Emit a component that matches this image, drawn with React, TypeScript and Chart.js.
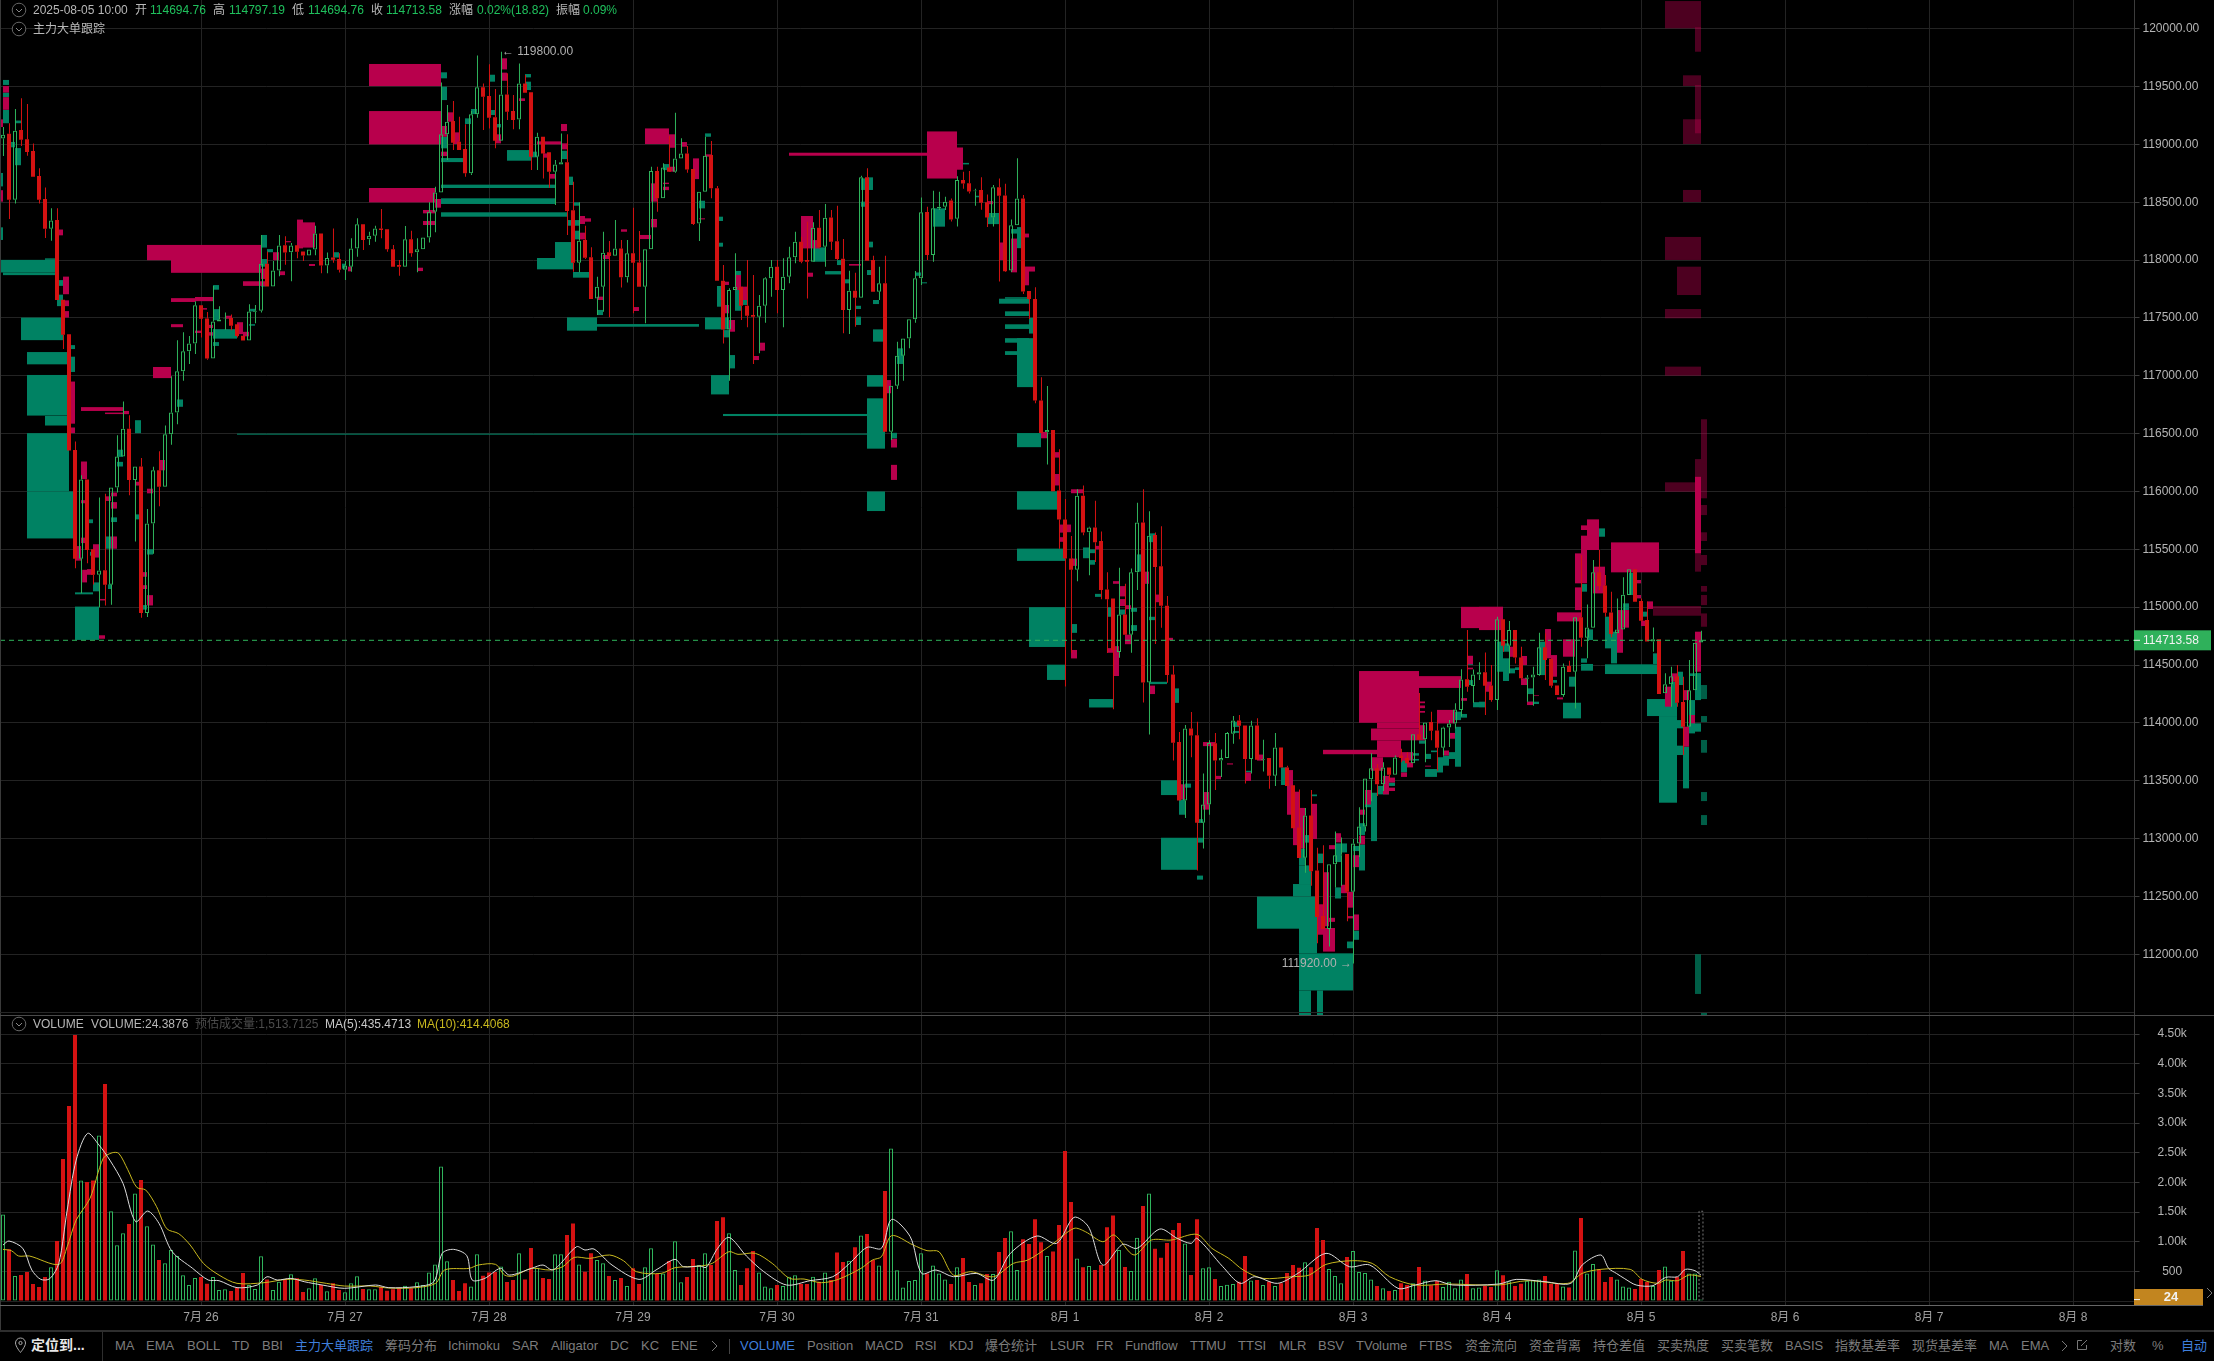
import React, { useEffect, useRef } from "react";
import { Chart, registerables } from "chart.js";

Chart.register(...registerables);

// ---------- hourly candles, 2025-07-24 15:00 to 2025-08-05 10:00 ----------
const opens = [
  119051,119091,118522,119124,119044,118942,118727,118528,118270,118346,
  117658,117360,116358,115419,116103,115501,115280,115319,115194,116034,
  116302,116543,116100,116216,114949,115723,116183,116041,116494,116682,
  117040,117212,117278,117609,117496,117149,117470,117490,117499,117446,
  117347,117304,117553,117562,117969,117771,117910,118128,118068,118128,
  118075,118039,118092,118230,117953,118022,118009,117916,117943,118101,
  118309,118179,118211,118274,118266,118093,117957,117943,118179,118067,
  118093,118196,118418,118585,119087,119202,119023,118960,118750,119260,
  119493,119418,119234,119032,119432,119288,119216,119527,119450,118894,
  119067,118931,118764,118827,118845,118430,117977,118173,118024,117669,
  117770,118067,118038,118101,117851,118058,117980,117770,118093,118770,
  118534,118801,118764,118879,118922,118787,118317,118591,118908,118620,
  117822,117401,117741,117770,117606,117525,117511,117606,117842,117943,
  117741,117856,118024,118159,118000,117986,118280,118116,118369,118162,
  118012,117568,117736,117675,118715,118001,117727,117799,116517,116914,
  117174,117323,117488,117842,118415,118044,118447,118461,118516,118358,
  118692,118665,118596,118606,118500,118367,118629,118559,117911,118301,
  118533,117732,117663,116786,116512,116532,116009,115757,115420,115324,
  115963,115648,115688,115572,115152,115076,114613,114937,114762,115301,
  115731,114348,115623,115354,115012,114419,113835,113329,113951,113893,
  113136,113294,113823,113674,113697,113907,114021,113978,113688,113978,
  113682,113697,113542,113788,113615,113460,113095,112835,113200,112724,
  112330,112219,112777,112856,112867,112540,112958,113104,113513,113607,
  113469,113615,113551,113718,113697,113650,113902,113858,114007,113934,
  113785,113960,113995,114112,114376,114318,114419,114437,114324,114197,
  114895,114667,114802,114566,114382,114393,114413,114653,114555,114324,
  114241,114491,114442,114912,114736,114823,115301,115188,114955,114774,
  114808,115105,115327,115053,114889,114704,114722,114255,114333,114402,
  114180,113967,114281,114694.76,
];
const closes = [
  119084,118522,119117,119041,118935,118720,118522,118270,118343,117655,
  117354,116355,115419,116103,115495,115280,115316,115194,116034,116302,
  116543,116100,116216,114949,115723,116183,116041,116494,116682,117040,
  117212,117278,117609,117493,117149,117470,117486,117495,117433,117344,
  117304,117556,117562,117969,117771,117910,118125,118065,118125,118072,
  118039,118092,118230,117953,118019,118002,117916,117953,118101,118309,
  118173,118211,118274,118260,118093,117943,117943,118179,118058,118093,
  118196,118418,118585,119087,119196,119015,118951,118750,119260,119493,
  119412,119231,119032,119432,119283,119211,119527,119447,118894,119067,
  118922,118764,118827,118845,118424,117977,118168,118021,117663,117770,
  118064,118035,118101,117851,118058,117977,117770,118093,118770,118534,
  118801,118764,118879,118922,118784,118312,118591,118902,118620,117822,
  117401,117741,117770,117606,117519,117511,117606,117842,117943,117741,
  117856,118024,118159,117986,117986,118280,118110,118366,118159,118009,
  117568,117736,117675,118715,117995,117727,117799,116517,116914,117174,
  117323,117488,117842,118413,118044,118447,118461,118505,118351,118692,
  118662,118592,118602,118496,118367,118629,118556,117904,118301,118533,
  117729,117663,116786,116505,116532,116002,115757,115420,115324,115963,
  115645,115688,115562,115149,115069,114629,114937,114762,115301,115731,
  114348,115618,115348,115012,114413,113829,113329,113951,113890,113136,
  113294,113826,113674,113697,113913,114021,113975,113688,113978,113682,
  113688,113542,113788,113615,113455,113089,112832,113200,112718,112321,
  112219,112777,112856,112861,112540,112958,113104,113519,113607,113469,
  113615,113551,113700,113697,113650,113902,113855,114004,113931,113785,
  113960,113995,114115,114375,114313,114419,114437,114321,114197,114895,
  114667,114802,114566,114385,114393,114419,114653,114543,114321,114241,
  114485,114439,114912,114736,114825,115301,115183,114952,114768,114808,
  115108,115327,115047,114883,114704,114722,114249,114333,114402,114174,
  113967,114281,114693,114713.58,
];
const highs = [
  119150,119183,119306,119398,119349,119008,118793,118627,118449,118449,
  117658,117360,116431,116140,116103,115501,115948,115981,116034,116487,
  116778,116659,116216,116289,115849,116213,116348,116570,116997,117308,
  117377,117344,117645,117609,117552,117777,117602,117546,117529,117446,
  117347,117619,117612,118217,118075,117992,118217,118207,118148,118128,
  118075,118092,118297,118230,118065,118273,118058,117992,118188,118361,
  118309,118245,118297,118441,118266,118130,118001,118294,118254,118188,
  118196,118499,118634,119536,119340,119375,119239,119173,119288,119769,
  119527,119692,119478,119800,119614,119427,119700,119600,119450,119101,
  119067,118931,118865,119095,119087,118678,118499,118297,118110,117856,
  118245,118165,118346,118173,118173,118453,118251,118093,118807,118807,
  118836,119072,119274,119052,118986,118787,118591,119067,119029,118640,
  117957,117756,118058,117770,118001,117871,117698,117851,118001,118001,
  118015,118116,118245,118202,118332,118326,118433,118485,118433,118470,
  118182,117908,117891,118729,118793,118038,117943,118038,116914,117295,
  117323,117488,117905,118542,118461,118600,118591,118548,118533,118725,
  118764,118771,118616,118715,118566,118649,118705,118659,118351,118880,
  118563,117732,117765,116988,116912,116532,116366,115936,115615,116019,
  116052,115695,115920,115655,115301,115076,115341,115202,115334,115903,
  116019,115830,115646,115699,115097,114498,113922,113981,114095,114010,
  113563,113849,113913,113770,113922,114059,114068,113978,114019,114039,
  113855,113697,113913,113788,113630,113460,113425,113265,113420,112920,
  112943,112777,113060,113010,112867,112996,113270,113519,113738,113644,
  113659,113615,113718,113776,113747,113902,114258,114004,114097,114024,
  113966,114024,114170,114463,114802,114462,114523,114609,114500,114918,
  114895,114880,114802,114658,114413,114485,114779,114774,114555,114324,
  114514,114537,114912,115451,115024,115407,115494,115278,115134,115076,
  115258,115327,115327,115076,115047,114825,114722,114428,114485,114500,
  114399,114543,114693,114797.19,
];
const lows = [
  118900,118356,118488,118985,118902,118720,118488,118191,118168,117655,
  117231,116355,115336,115121,115379,115197,115000,115015,115022,115991,
  116302,115968,115568,114909,114916,115462,115872,116041,116404,116580,
  116957,117102,117188,117331,117139,117149,117470,117397,117394,117331,
  117304,117304,117453,117546,117771,117771,117860,117959,117817,118015,
  117992,118039,118042,117886,117886,117976,117893,117827,117900,118029,
  118087,118130,118159,118188,118073,117943,117865,117943,118029,117894,
  118093,118153,118240,118585,118865,118951,118951,118721,118735,119231,
  119124,119138,118966,119032,119211,119130,119130,119447,118778,118778,
  118706,118626,118476,118827,118217,117900,117894,118009,117663,117525,
  117554,117505,118038,117764,117807,117540,117770,117453,118093,118418,
  118534,118764,118755,118879,118755,118303,118165,118591,118534,117822,
  117280,116958,117741,117482,117419,117102,117194,117459,117684,117540,
  117419,117799,117972,117972,117669,117986,118101,117943,118087,118001,
  117367,117361,117424,117675,117995,117727,117655,116517,116445,116886,
  116958,117237,117459,117784,118001,117986,118433,118433,118334,118291,
  118616,118576,118470,118434,118285,118291,117815,117898,117898,118301,
  117706,117491,116763,116505,116234,116002,115506,114315,114606,115225,
  115622,115275,115390,115069,114603,114117,114563,114762,114606,115149,
  114176,113900,114682,114822,114346,113674,113329,113177,113703,112724,
  112914,113206,113420,113533,113697,113820,113858,113475,113563,113682,
  113580,113431,113455,113615,113455,113089,112832,112704,112593,112096,
  112219,112067,112578,112593,112286,111920,112841,113060,113323,113367,
  113411,113498,113551,113659,113644,113650,113849,113659,113849,113586,
  113718,113791,113951,114054,114269,114174,114370,114068,114183,114111,
  114615,114428,114514,114370,114183,114148,114408,114370,114304,114241,
  114226,114439,114125,114658,114558,114823,115148,114918,114739,114774,
  114808,115105,115047,114874,114704,114615,114249,114255,114140,114140,
  113722,113967,114281,114694.76,
];
const volumes = [
  1461,871,421,438,489,287,236,405,568,1012,
  2394,3288,4485,2034,2006,2034,2793,3659,1512,939,
  1141,1298,1815,2040,1259,955,691,635,860,759,
  433,270,388,405,292,405,185,197,169,225,
  472,270,202,753,365,185,326,371,450,382,
  152,214,382,270,163,298,185,146,298,416,
  202,197,197,242,174,197,214,259,214,315,
  270,483,618,2270,669,354,169,298,247,787,
  427,483,489,584,320,354,804,365,894,562,
  388,371,787,787,1113,1309,618,495,804,691,
  635,421,354,388,253,551,287,568,888,455,
  466,674,1006,315,405,708,607,804,607,1349,
  1411,1141,523,270,551,843,483,247,214,270,
  253,410,433,287,287,410,326,483,354,820,
  657,680,905,1107,1130,691,601,1855,2574,517,
  230,337,354,804,466,601,466,365,287,568,
  725,320,270,298,455,455,826,1062,1175,523,
  1040,961,1377,989,759,837,1281,2529,1669,719,
  568,590,523,607,1242,1444,860,573,506,1068,
  1602,1815,882,731,978,1197,1315,972,438,1377,
  551,568,371,253,275,287,326,759,348,354,
  270,326,253,298,472,607,562,652,568,1231,
  1028,540,421,298,742,843,489,472,365,253,
  214,169,185,298,270,298,573,348,264,337,
  236,326,214,365,455,214,230,253,236,517,
  433,332,253,292,343,354,365,421,287,287,
  247,230,854,1399,466,624,534,320,405,365,
  247,230,202,371,320,253,523,584,343,405,
  843,466,466,24.3876,
];

// ---------- MA lines, read at their turning points: [hour index, value] ----------
const ma5Points: number[][] = [
  [0,944],[1,1012],[3.3,888],[4.8,523],[6.3,365],[7.8,377],[9.3,635],[10.7,1534],[12.2,2377],[14.1,2827],
  [16,2630],[17.8,2377],[20,1984],[22.1,1338],[24.1,1517],[26,1309],[28.2,832],[31.6,551],[34.2,354],[36,343],
  [39,225],[42.4,270],[44,410],[45.7,354],[48,382],[50.2,326],[53.2,270],[56.9,214],[62.1,270],[64.3,225],
  [68.8,242],[71.8,326],[73.2,804],[75.1,871],[77.3,764],[78.2,354],[80.3,382],[82.9,551],[84.4,438],[88.1,551],
  [90,607],[91.5,523],[92.6,596],[95.6,916],[97,860],[98.5,877],[101.5,607],[106,365],[109,534],[112,703],
  [113.4,579],[116.2,590],[117.2,568],[119.1,888],[121,1073],[123.9,759],[126.8,495],[130.6,270],[134.5,343],[138.3,410],
  [141.1,635],[144,905],[146.4,888],[148.1,1377],[151.2,1085],[153.1,466],[155.5,523],[158.4,410],[162.2,466],[165.1,354],
  [167.9,804],[172.3,1096],[175.6,972],[178.5,1411],[180.9,1253],[183.3,607],[186.6,955],[189,888],[192.8,1214],[195.7,1057],
  [198,972],[199,1057],[203.3,579],[206.2,298],[208.6,410],[212.4,298],[215.8,466],[220.5,804],[224.4,579],[227.8,607],
  [232.5,214],[235.4,270],[238.8,343],[241.6,270],[249.3,287],[252.2,365],[257,326],[261.3,298],[263.2,607],[266.3,776],
  [267.6,551],[268.9,466],[270.2,382],[272.2,270],[275,259],[277.1,399],[279.1,410],[280.4,534],[282,511],[283,435.47],
];
const ma10Points: number[][] = [
  [0,871],[1.4,848],[2.6,759],[4.4,759],[9.3,618],[10.7,916],[12.2,1366],[14.5,1731],[16.7,2405],[18.2,2500],
  [19.3,2489],[20.8,2214],[22.3,1916],[23.8,1871],[25.6,1590],[27.3,1219],[29.3,1135],[31.2,944],[33.4,635],[36,438],
  [39,298],[43.5,309],[47.2,365],[50.2,354],[53.9,298],[56.9,253],[61.3,253],[64.3,219],[68.8,225],[72.1,298],
  [73.6,523],[77.7,551],[79.2,607],[82.1,618],[83.6,438],[85.1,422],[88.1,551],[91.1,523],[93.3,579],[95.2,736],
  [97.8,719],[101.1,776],[103.4,680],[105.6,494],[109.7,466],[112,562],[116.2,590],[118.2,635],[121,832],[122.5,787],
  [125.4,804],[128.2,635],[131.1,382],[133.5,371],[136.4,309],[139.2,365],[143,551],[144.9,691],[146.4,747],[148.1,1102],
  [151.7,944],[154,849],[156,832],[158.4,438],[161.3,495],[165.1,410],[168.4,635],[170.8,691],[174.7,944],[178.5,1225],
  [180.4,1169],[183.3,1000],[185.2,1113],[188.5,776],[191.4,1028],[194.7,1028],[199,1124],[201.5,888],[204.3,719],[206.7,523],
  [210,382],[214.8,410],[217.7,438],[220.5,618],[224.9,680],[228.2,635],[231.1,410],[235.4,270],[240.7,287],[249.3,270],
  [254,343],[260.8,298],[263.2,466],[266.3,534],[271.2,534],[273.2,365],[275.8,298],[277.1,354],[279.1,343],[281,438],[283,414.41],
];
const estimatedVolume = 1513.7125;
const lastIndex = 283;

// ---------- price levels and axis labels ----------
const priceTicks = [112000,112500,113000,113500,114000,114500,115000,115500,116000,116500,117000,117500,118000,118500,119000,119500,120000];
const volumeTicks = [0,500,1000,1500,2000,2500,3000,3500,4000,4500];
const dayTickIndex = [33,57,81,105,129,153,177,201,225,249,273,297,321,345];
const dayLabels = ["7月 26","7月 27","7月 28","7月 29","7月 30","7月 31","8月 1","8月 2","8月 3","8月 4","8月 5","8月 6","8月 7","8月 8"];
const lastPrice = 114713.58;
const lastVolume = 24.3876;
const highMark = { index: 83, price: 119800 };
const lowMark = { index: 225, price: 111920 };

// ---------- large-order zones: [from hour, to hour, upper price, lower price] ----------
const sellZones: number[][] = [
  [0,1,119504,119448],[0,1,119408,119299],[-0.5,0,119216,119150],[-0.5,0,118604,118505],[9.33,10,118264,118214],[10,11,117857,117705],
  [10.33,11,117652,117602],[10.33,11,117559,117503],[11.33,12,116950,116586],[11.33,12,116553,116504],[13,14,116259,116107],[13,13.7,115925,115898],
  [13,13.7,115601,115554],[15,16,115544,115429],[12,13,115528,115402],[13.2,14,115323,115214],[14,15,115329,115280],[16,17,115071,115058],
  [16,17,114757,114727],[17,18,115958,115918],[18,19,115991,115958],[18,19,115908,115852],[18,19,115611,115505],[13,20,116729,116696],
  [17,21,116682,116669],[20,21,116696,116669],[22,23,116084,116051],[26,27,116272,116183],[24,25,116024,115984],[24,25,115104,115015],
  [23.33,24,115303,115263],[23.33,24,115190,115157],[25,28,117076,116980],[28,30,117446,117420],[28,32,117671,117638],[32,35,117681,117645],
  [33,34,117585,117572],[32,33,117390,117370],[24,28,118131,117999],[28,43,118131,117890],[40,44,117817,117777],[34,35,117440,117413],
  [39,40,117463,117360],[40,41,117380,117341],[37,38,117519,117493],[34,35,117377,117347],[43,43.7,117926,117837],[45,46,118068,117999],
  [46,47,117903,117870],[47,48,118164,118154],[49,50,118350,118101],[50,52,118326,118108],[51,52,117966,117949],[57.5,58,117943,117903],
  [61,73,119695,119504],[61,73,119288,119000],[61,72,118623,118499],[74,75,119277,119196],[73,74,119159,119066],[75,76,119104,119003],
  [73,74,118937,118899],[83,84,119744,119648],[83,84,119620,119550],[82,83,119087,119009],[86,87,119398,119375],[93,94,119176,119115],
  [89,93,119026,119000],[93,94,119009,118957],[90,91,118922,118885],[91,92,118744,118704],[72,73,118528,118453],[70,72,118433,118404],
  [70,72,118338,118303],[69,70,117934,117905],[96,97,118381,118312],[97,98,118361,118332],[96,97,118237,118179],[100,101,118044,118009],
  [103,104,118266,118245],[99,100,117684,117655],[105,106,117594,117560],[106,108,118217,118182],[108,109,118355,118283],[108,109,118663,118505],
  [107,111,119138,119003],[111,112,119087,118971],[110,111,118669,118657],[110,111,118634,118605],[111,112,118807,118764],[113,114,119020,118980],
  [115,116,118879,118700],[116,117,118361,118352],[117,118,118914,118894],[120,121,117813,117785],[120,121,117612,117540],[121,122,117482,117381],
  [122,123,117871,117741],[123,124,117770,117655],[125,126,117171,117136],[126,127,117286,117217],[133,135,118381,118101],[135,136,118173,118101],
  [134,135,117891,117856],[141,143,117966,117952],[147,148,116963,116849],[148,149,116455,116380],[148,149,116230,116100],[131,154,118928,118902],[154,159,119112,118705],[159,160,118973,118781],
  [164,165,118510,118483],[166,167,118152,118000],[168,169,118186,117894],[170,171,118229,118196],[170,172,117944,117901],[170,171,117928,117782],
  [173,174,116515,116460],[175,176,116340,116293],[175,176,116151,116052],[176,178,115714,115648],[176,177,115680,115645],[176,177,115605,115565],
  [178,180,116019,115985],[182,183,115530,115500],[178,179,115420,115357],[178,179,114630,114557],[185,186,115225,115202],[186,187,115182,115093],
  [186,187,115070,115010],[187,188,115017,114983],[187,188,114762,114680],[185,186,114663,114405],[184,185,114646,114606],[190,191,115307,115202],
  [192,193,115109,115043],[191,192,114322,114249],[194,195,114735,114712],[196.3,197,113469,113338],[200,201,113402,113250],[200,202,113834,113799],
  [202,203,113542,113513],[204,205,113650,113640],[207,208,113572,113498],[209,210,113726,113674],[214,215,113592,113206],[215,216,113405,112943],
  [216,217,113265,112914],[218,219,113300,112996],[220,222,112227,112023],[219,220,112432,112169],[220,221,112709,112242],[221,222,112943,112908],
  [221,222,112315,112280],[222,223,113046,112967],[223,224,112601,112528],[224,225,112540,112403],[224,225,112330,112310],[225,226,112344,112207],
  [225,226,112856,112753],[226,227,113025,112949],[226,227,113250,113206],[227,228,113420,113294],[220,229,113767,113729],[226,236,114448,114001],
  [236,243,114404,114302],[229,236,114001,113951],[228,236,113951,113849],[229,233,113849,113703],[228,230,113703,113586],[230,231,113542,113382],
  [231,232,113527,113484],[231,232,113440,113411],[233,235,113747,113674],[233,234,113571,113533],[234,235,113659,113615],[236,237,113980,113849],
  [236,237,114185,114170],[236,237,114150,114127],[236,237,114103,114088],[237,238,113630,113622],[239,242,114112,113995],[240,241,113761,113718],
  [241,242,113913,113863],[243,244,114214,114191],[244,245,114580,114507],[244,245,114477,114463],[243,246,115003,114819],[246,250,115004,114802],
  [247,248,114356,114269],[251,252,114658,114571],[253,254,114578,114500],[253,254,114385,114327],[254,255,114183,114154],[255,256,114238,114232],
  [257,258,114811,114558],[258,259,114586,114399],[259,260,114220,114203],[260,262,114722,114572],[259,263,114955,114877],[262,263,115465,115206],
  [262,263,115171,114975],[263,264,115618,115206],[263,264,115707,115667],[264,266,115759,115494],[265,267,115350,115119],[269,270,114975,114606],
  [270,271,114975,114823],[268,276,115560,115301],[272,273,115235,115206],[272,273,115105,115076],[273,274,114883,114837],[274,275,115050,114985],
  [278,279,114428,114356],[277,278,114313,114140],[280,281,114283,114197],[280,281,113967,113794],[281,282,114068,113996],[282,283,114788,114442],
  [282,283,116128,115465],
];
const buyZones: number[][] = [
  [0,1,119557,119514],[0,1,119448,119408],[0,1,119299,119183],[-0.5,0,118753,118637],[-0.5,0,118283,118174],[2,3,119206,119183],
  [2,3,118968,118820],[1.33,2,119021,118975],[-0.33,9,118002,117893],[0,9,117893,117870],[7,9,118015,118002],[9.33,10,117827,117777],
  [9,10,117701,117602],[3,10,117503,117308],[4,11,117205,117099],[11.33,12,117265,117231],[11.33,12,117165,117033],[4,11,117007,116656],
  [7,11,116653,116570],[4,11,116504,116001],[4,12,116001,115594],[14.33,15,115759,115726],[14.5,15,115478,115445],[12,15,115128,115111],
  [15,16,115214,115137],[12,16,115005,114717],[17.5,18,115197,115157],[18,19,115776,115736],[17,18,115611,115505],[19,20,116361,116299],
  [19,20,116256,116216],[22,23,116616,116504],[22,23,115802,115759],[24,25,115501,115455],[23.33,24,115018,114979],[29,30,116795,116732],
  [35,36,117784,117744],[35,36,117576,117480],[35,39,117403,117321],[35,36,117291,117258],[41,42,117579,117556],[41,42,117446,117433],
  [43,44,118217,118108],[43,44,118009,117943],[43,43.7,117810,117771],[44,45,118095,118068],[55,56,118068,118022],[56.5,57,117969,117926],
  [39,144,116500,116491],[73,74,119623,119571],[73,74,119499,119383],[73,74,119066,118966],[73,77,118882,118847],[77,78,119225,119176],
  [78,79,119306,119262],[81,82,119602,119542],[81,82,119297,119254],[82,83,119176,119147],[87,88,119608,119579],[87,88,119542,119470],
  [84,88,118951,118859],[88,89,118937,118888],[93,94,118945,118873],[73,92,118652,118623],[73,92,118534,118485],[73,94,118413,118375],
  [94,95,118721,118649],[95,96,118499,118470],[94,96,118346,118297],[95,96,118254,118179],[92,95,118156,118018],[89,95,118018,117920],
  [95,98,117897,117848],[99,100,117569,117525],[94,99,117505,117390],[99,116,117447,117424],[110,111,118830,118778],[116,117,118513,118447],
  [117,118,119095,119066],[117,121,117505,117401],[119,120,118375,118338],[119,120,118150,118116],[119,120,117776,117597],[120,121,117395,117332],
  [122,123,117906,117866],[122,123,117747,117562],[123,124,117741,117612],[121,122,117179,117064],[118,121,117006,116839],[120,144,116670,116652],
  [144,147,117006,116906],[144,147,116805,116370],[144,147,116000,115831],[145,147,117401,117295],[142,143,117605,117577],[142,143,117511,117439],[135,137,118110,117986],
  [137,140,117905,117876],[139,140,118000,117957],[140,141,117834,117799],[143,144,118706,118606],[143,144,118505,118461],[144,145,118715,118606],
  [144,145,118159,118110],[144,145,117914,117871],[145,146,117655,117620],[148,149,116507,116458],[149,150,117237,117102],[152,153,117893,117864],
  [153,154,117808,117799],[155,157,118447,118289],[160,161,118840,118827],[162,163,118556,118543],[164,166,118407,118311],[168,170,118268,118229],
  [169,170,118285,118103],[166,171,117666,117623],[167,171,117679,117666],[167,171,117557,117517],[167,171,117445,117405],[167,171,117325,117286],
  [167,171,117213,117180],[169,172,117325,116902],[171,172,117501,117365],[169,173,116505,116383],[169,176,116002,115843],[169,177,115506,115400],
  [180,181,115516,115423],[181,182,115500,115467],[181,182,115407,115367],[178,179,114854,114778],[171,177,115000,114656],[174,177,114503,114371],
  [181,185,114206,114133],[182,183,115115,115089],[184,185,115000,114917],[186,187,114980,114935],[188,189,114993,114960],[188,189,114845,114795],
  [191,192,114917,114888],[189,190,115456,115307],[191,192,115638,115562],[191,194,114355,114335],[195,196,114298,114173],[196,197,113338,113206],
  [193,196,113504,113376],[197,198,113475,113440],[193,199,113007,112730],[199,200,112680,112645],[199,200,113168,113135],[199,200,113007,112965],
  [205,206,114010,113965],[205,206,113930,113913],[207,208,113586,113572],[213,214,113615,113463],[217,218,113030,112965],[216,217,112914,112768],
  [218,219,113381,113366],[216,218,112768,112607],[215,218,112607,112499],[209,216,112499,112221],[216,219,112499,112008],[216,225,112008,111687],
  [216,218,111687,111475],[219,220,111687,111475],[219,220,112870,112788],[222,223,112578,112482],[222,223,112958,112797],[223,224,112958,112880],
  [224,225,112110,112052],[225,226,112204,112125],[225,226,112936,112892],[226,227,112949,112724],[226,227,113133,113031],[228,229,113396,112978],
  [227,228,113367,113271],[230,231,113469,113382],[229,230,113455,113382],[231,232,113484,113455],[233,234,113717,113571],[236,237,113849,113820],
  [235,236,113738,113717],[235,236,113688,113674],[237,239,113601,113533],[238,239,113761,113747],[237,238,113732,113688],[239,240,113703,113571],
  [240,241,113718,113630],[241,242,113747,113688],[242,243,113966,113621],[242,243,114097,114024],[243,244,114077,114045],[244,245,114521,114501],
  [245,246,114179,114135],[246,247,114183,114134],[244,245,114370,114327],[249,250,114702,114442],[250,251,114558,114362],[250,251,114687,114615],
  [251,252,114471,114428],[252,253,114480,114457],[253,254,114529,114500],[254,255,114298,114249],[254,256,114183,114163],[256,257,114702,114413],
  [258,259,114370,114347],[261,262,114399,114313],[260,263,114174,114039],[263,264,114557,114520],[263,265,114509,114451],[264,265,114808,114716],
  [263,264,115200,115134],[266,267,115681,115609],[267,268,114918,114644],[268,269,114788,114514],[270,271,115033,114975],[271,272,115298,115105],
  [273,274,114961,114918],[275,276,114601,114509],[274,279,114206,114059],[276,279,114059,113310],[279,280,114024,113953],[279,280,113803,113722],
  [278,279,114356,114197],[279,280,114442,114327],[280,281,113794,113434],[281,282,114197,113909],[282,283,113996,113924],[282,283,114428,114197],
  [281,283,114428,114405],[267,276,114506,114422],
];
const fadedSellZones: number[][] = [
  [277,283,120239,120003],[282,283,120012,119801],[280,283,119597,119505],[282,283,119513,119096],[280,283,119217,119003],[280,283,118606,118502],
  [277,283,118200,118001],[279,283,117943,117698],[277,283,117577,117497],[277,283,117079,117001],[283,284,116624,116243],[282,283,116280,116128],
  [283,284,116244,115941],[277,282,116079,115998],[283,284,115883,115796],[283,284,115647,115572],[283,284,115451,115364],[283,284,115183,115134],
  [283,284,115105,115018],[283,284,114946,114831],[275,283,115010,114926],[282,283,115465,115307],
];
const fadedBuyZones: number[][] = [
  [283,284,114327,114206],[283,284,114059,114007],[283,284,113852,113742],[283,284,113402,113324],[283,284,113203,113117],[282,283,112000,111657],[283,284,111500,111475],
];

// ---------- text of the header rows and the toolbar ----------
const quoteRow: [string, number, string][] = [
  ["2025-08-05 10:00",33,"#b8b8b8"],["开",135,"#b8b8b8"],["114694.76",150,"#1fc05c"],["高",213,"#b8b8b8"],["114797.19",229,"#1fc05c"],
  ["低",292,"#b8b8b8"],["114694.76",308,"#1fc05c"],["收",371,"#b8b8b8"],["114713.58",386,"#1fc05c"],["涨幅",449,"#b8b8b8"],
  ["0.02%(18.82)",477,"#1fc05c"],["振幅",556,"#b8b8b8"],["0.09%",583,"#1fc05c"],
];
const volumeRow: [string, number, string][] = [
  ["VOLUME",33,"#b8b8b8"],["VOLUME:24.3876",91,"#b8b8b8"],["预估成交量:1,513.7125",195,"#4c4c4c"],["MA(5):435.4713",325,"#c8c8c8"],["MA(10):414.4068",417,"#c8b81e"],
];
const toolbarRow: [string, number, boolean?][] = [
  ["MA",115],["EMA",146],["BOLL",187],["TD",232],["BBI",262],["主力大单跟踪",295,true],["筹码分布",385],["Ichimoku",448],["SAR",512],["Alligator",551],["DC",610],["KC",641],["ENE",671],
  ["VOLUME",740,true],["Position",807],["MACD",865],["RSI",915],["KDJ",949],["爆仓统计",985],["LSUR",1050],["FR",1096],["Fundflow",1125],["TTMU",1190],["TTSI",1238],["MLR",1279],["BSV",1318],["TVolume",1356],["FTBS",1419],
  ["资金流向",1465],["资金背离",1529],["持仓差值",1593],["买卖热度",1657],["买卖笔数",1721],["BASIS",1785],["指数基差率",1835],["现货基差率",1912],["MA",1989],["EMA",2021],["对数",2110],["%",2152],["自动",2181,true],
];

const FONT = '"Liberation Sans","Noto Sans CJK SC",sans-serif';
const RED = "#d41212";
const GREEN = "#2fb45c";
const GRID = "#232323";

const hours = opens.map((_, i) => i);
const isUp = (i: number) => closes[i] >= opens[i];
const xScale = (height: number, showLabels: boolean) => ({
  type: "linear" as const,
  min: -0.5,
  max: 355.25,
  offset: false,
  bounds: "data",
  grid: { color: GRID, offset: false, drawTicks: false },
  border: { display: false },
  ticks: {
    display: showLabels,
    autoSkip: false,
    maxRotation: 0,
    padding: 5,
    color: "#a0a0a0",
    font: { family: FONT, size: 12 },
    callback: (v: number) => dayLabels[dayTickIndex.indexOf(v)] ?? "",
  },
  afterBuildTicks: (s: any) => { s.ticks = dayTickIndex.map((value) => ({ value })); },
  afterFit: (s: any) => { s.height = height; s.paddingLeft = 0; s.paddingRight = 0; },
});
const yAfterFit = (s: any) => { s.width = 79.5; s.paddingTop = 0; s.paddingBottom = 0; };

const zonePlugin = {
  id: "zones",
  beforeDatasetsDraw(chart: any) {
    const { ctx, chartArea: a, scales: { x, y } } = chart;
    const paint = (zones: number[][], color: string) => {
      ctx.fillStyle = color;
      for (const [from, to, hi, lo] of zones) {
        const l = x.getPixelForValue(from), r = x.getPixelForValue(to);
        const t = y.getPixelForValue(hi), b = y.getPixelForValue(lo);
        ctx.fillRect(l, t, r - l, b - t);
      }
    };
    ctx.save();
    ctx.beginPath();
    ctx.rect(a.left, a.top, a.right - a.left, a.bottom - a.top);
    ctx.clip();
    paint(buyZones, "#008263");
    paint(sellZones, "#b8004c");
    paint(fadedSellZones, "rgba(184,0,76,0.42)");
    paint(fadedBuyZones, "rgba(0,130,99,0.72)");
    ctx.restore();
  },
};
const priceMarksPlugin = {
  id: "priceMarks",
  afterDraw(chart: any) {
    const { ctx, scales: { x, y } } = chart;
    ctx.save();
    ctx.font = `12px ${FONT}`;
    ctx.textBaseline = "middle";
    ctx.fillStyle = "#b0b0b0";
    ctx.textAlign = "left";
    ctx.fillText(`← ${highMark.price.toFixed(2)}`, x.getPixelForValue(highMark.index) + 1, y.getPixelForValue(highMark.price));
    ctx.textAlign = "right";
    ctx.fillText(`${lowMark.price.toFixed(2)} →`, x.getPixelForValue(lowMark.index) - 1, y.getPixelForValue(lowMark.price));
    const p = y.getPixelForValue(lastPrice);
    ctx.fillStyle = "#2fb15b";
    ctx.fillRect(2134, p - 10, 77, 20);
    ctx.fillStyle = "#f2f2f2";
    ctx.fillRect(2134, p - 0.5, 6, 1);
    ctx.textAlign = "left";
    ctx.fillText(lastPrice.toFixed(2), 2143, p + 0.5);
    ctx.restore();
  },
};
const volumeTagPlugin = {
  id: "volumeTag",
  afterDraw(chart: any) {
    const { ctx, chartArea: a, scales: { y } } = chart;
    ctx.save();
    ctx.fillStyle = "#c2851f";
    ctx.fillRect(2134, a.bottom - 16, 69, 16);
    ctx.fillStyle = "#f2f2f2";
    ctx.fillRect(2134, y.getPixelForValue(lastVolume) - 0.5, 6, 1);
    ctx.font = `bold 13px ${FONT}`;
    ctx.textAlign = "center";
    ctx.textBaseline = "middle";
    ctx.fillText(String(Math.round(lastVolume)), 2171, a.bottom - 7.5);
    ctx.restore();
  },
};

const Label = ({ x, y, color, size = 12, bold = false, children }: any) => (
  <span style={{ position: "absolute", left: x, top: y, transform: "translateY(-50%)", color, fontSize: size, fontWeight: bold ? 700 : 400, whiteSpace: "nowrap", fontFamily: FONT, lineHeight: 1 }}>{children}</span>
);
const Circle = ({ x, y }: any) => (
  <svg style={{ position: "absolute", left: x - 8, top: y - 8 }} width="16" height="16" viewBox="0 0 16 16">
    <circle cx="8" cy="8" r="6.8" fill="#000" stroke="#666" />
    <path d="M5 7l3 3 3-3" fill="none" stroke="#888" />
  </svg>
);
const Rule = ({ x, y, w, h, c }: any) => (
  <div style={{ position: "absolute", left: x, top: y, width: w, height: h, background: c }} />
);
const Chevron = ({ x, y }: any) => (
  <svg style={{ position: "absolute", left: x, top: y }} width="7" height="12" viewBox="0 0 7 12">
    <path d="M1 1l5 5-5 5" fill="none" stroke="#777" />
  </svg>
);

export default function App() {
  const mainRef = useRef<HTMLCanvasElement>(null);
  const volRef = useRef<HTMLCanvasElement>(null);

  useEffect(() => {
    document.body.style.margin = "0";
    document.body.style.background = "#000";

    const upHours = hours.filter(isUp);
    const downHours = hours.filter((i) => !isUp(i));
    const wickColors = hours.map((i) => (isUp(i) ? GREEN : RED));
    const wickNudge = 0.08;
    const barBase = { type: "bar" as const, grouped: false, borderSkipped: false, inflateAmount: 0 };

    const main = new Chart(mainRef.current!, {
      type: "bar",
      data: {
        datasets: [
          { type: "line", data: [{ x: -0.5, y: lastPrice }, { x: 355.25, y: lastPrice }], borderColor: GREEN, borderWidth: 1, borderDash: [5, 4], pointRadius: 0, order: 0 },
          { ...barBase, data: downHours.map((i) => ({ x: i, y: [opens[i], closes[i]] })), backgroundColor: RED, barThickness: 4, order: 1 },
          { ...barBase, data: upHours.map((i) => ({ x: i, y: [opens[i], closes[i]] })), backgroundColor: "rgba(0,0,0,0)", borderColor: GREEN, borderWidth: 1, barThickness: 4, order: 1 },
          { ...barBase, data: hours.map((i) => ({ x: i + wickNudge, y: [Math.max(opens[i], closes[i]), highs[i]] })), backgroundColor: wickColors, barThickness: 1, order: 2 },
          { ...barBase, data: hours.map((i) => ({ x: i + wickNudge, y: [lows[i], Math.min(opens[i], closes[i])] })), backgroundColor: wickColors, barThickness: 1, order: 2 },
        ] as any,
      },
      options: {
        responsive: false, animation: false, events: [], devicePixelRatio: 1,
        layout: { padding: 0 },
        plugins: { legend: { display: false }, tooltip: { enabled: false } },
        scales: {
          x: xScale(0, false),
          y: {
            type: "linear", position: "right", min: 111475, max: 120248, bounds: "data",
            grid: { color: GRID, tickColor: "#3c3c3c", tickLength: 5 },
            border: { color: "#3c3c3c" },
            ticks: { autoSkip: false, padding: 3, color: "#b4b4b4", font: { family: FONT, size: 12 }, callback: (v: number) => v.toFixed(2) },
            afterBuildTicks: (s: any) => { s.ticks = priceTicks.map((value) => ({ value })); },
            afterFit: yAfterFit,
          },
        } as any,
      },
      plugins: [zonePlugin, priceMarksPlugin],
    });

    const line = (points: number[][], color: string) => ({
      type: "line" as const, data: points.map(([x, y]) => ({ x, y })), borderColor: color, borderWidth: 1, pointRadius: 0, tension: 0.3, order: 0,
    });
    const vol = new Chart(volRef.current!, {
      type: "bar",
      data: {
        datasets: [
          line(ma5Points, "#dcdcdc"),
          line(ma10Points, "#c8b81e"),
          {
            type: "line",
            data: [{ x: lastIndex - 0.33, y: 0 }, { x: lastIndex - 0.33, y: estimatedVolume }, { x: lastIndex + 0.33, y: estimatedVolume }, { x: lastIndex + 0.33, y: 0 }],
            borderColor: "#777", borderWidth: 1, borderDash: [2, 2], pointRadius: 0, order: 0,
          },
          { ...barBase, data: downHours.map((i) => ({ x: i, y: volumes[i] })), backgroundColor: RED, barThickness: 4, order: 1 },
          { ...barBase, data: upHours.map((i) => ({ x: i, y: volumes[i] })), backgroundColor: "rgba(0,0,0,0)", borderColor: GREEN, borderWidth: 1, barThickness: 4, order: 1 },
        ] as any,
      },
      options: {
        responsive: false, animation: false, events: [], devicePixelRatio: 1,
        layout: { padding: 0 },
        plugins: { legend: { display: false }, tooltip: { enabled: false } },
        scales: {
          x: xScale(25, true),
          y: {
            type: "linear", position: "right", min: -67, max: 4823, bounds: "data",
            grid: { color: GRID, tickColor: "#3c3c3c", tickLength: 5 },
            border: { color: "#3c3c3c" },
            ticks: {
              autoSkip: false, padding: 18, crossAlign: "center", color: "#b4b4b4", font: { family: FONT, size: 12 },
              callback: (v: number) => (v === 0 ? "" : v < 1000 ? String(v) : `${(v / 1000).toFixed(2)}k`),
            },
            afterBuildTicks: (s: any) => { s.ticks = volumeTicks.map((value) => ({ value })); },
            afterFit: yAfterFit,
          },
        } as any,
      },
      plugins: [volumeTagPlugin],
    });

    return () => { main.destroy(); vol.destroy(); };
  }, []);

  return (
    <div style={{ position: "absolute", left: 0, top: 0, width: 2214, height: 1361, background: "#000", overflow: "hidden" }}>
      <canvas ref={mainRef} width={2214} height={1015} style={{ position: "absolute", left: 0, top: 0, display: "block" }} />
      <canvas ref={volRef} width={2214} height={315} style={{ position: "absolute", left: 0, top: 1015, display: "block" }} />

      <Rule x={0} y={0} w={1} h={1330} c="#3a3a3a" />
      <Rule x={0} y={1012} w={2134} h={1} c="#262626" />
      <Rule x={0} y={1015} w={2214} h={1} c="#4a4a4a" />
      <Rule x={0} y={1305} w={2203} h={1} c="#666" />
      <Rule x={0} y={1330} w={2214} h={2} c="#2e2e2e" />
      <Rule x={102} y={1332} w={1} h={29} c="#2e2e2e" />
      <Rule x={729} y={1339} w={1} h={15} c="#444" />

      <Circle x={19} y={10} />
      <Circle x={19} y={29} />
      <Circle x={19} y={1024} />
      {quoteRow.map(([t, x, c], i) => <Label key={i} x={x} y={10} color={c}>{t}</Label>)}
      <Label x={33} y={29} color="#b8b8b8">主力大单跟踪</Label>
      {volumeRow.map(([t, x, c], i) => <Label key={i} x={x} y={1024} color={c}>{t}</Label>)}

      <svg style={{ position: "absolute", left: 14, top: 1337 }} width="13" height="17" viewBox="0 0 13 17">
        <path d="M6.5 1C3.5 1 1.5 3.3 1.5 6c0 3.5 5 9.5 5 9.5s5-6 5-9.5c0-2.7-2-5-5-5z" fill="none" stroke="#aaa" />
        <circle cx="6.5" cy="6" r="1.6" fill="none" stroke="#aaa" />
      </svg>
      <Label x={31} y={1345} color="#e8e8e8" size={14} bold>定位到...</Label>
      {toolbarRow.map(([t, x, on], i) => <Label key={i} x={x} y={1345} size={13} color={on ? "#3f7fdc" : "#7c7c7c"}>{t}</Label>)}
      <Chevron x={711} y={1340} />
      <Chevron x={2061} y={1340} />
      <svg style={{ position: "absolute", left: 2076, top: 1339 }} width="12" height="12" viewBox="0 0 12 12">
        <path d="M6 1.5H1.5v9h9V6M5 7l6-6" fill="none" stroke="#777" />
      </svg>
      <Chevron x={2206} y={1287} />
    </div>
  );
}
